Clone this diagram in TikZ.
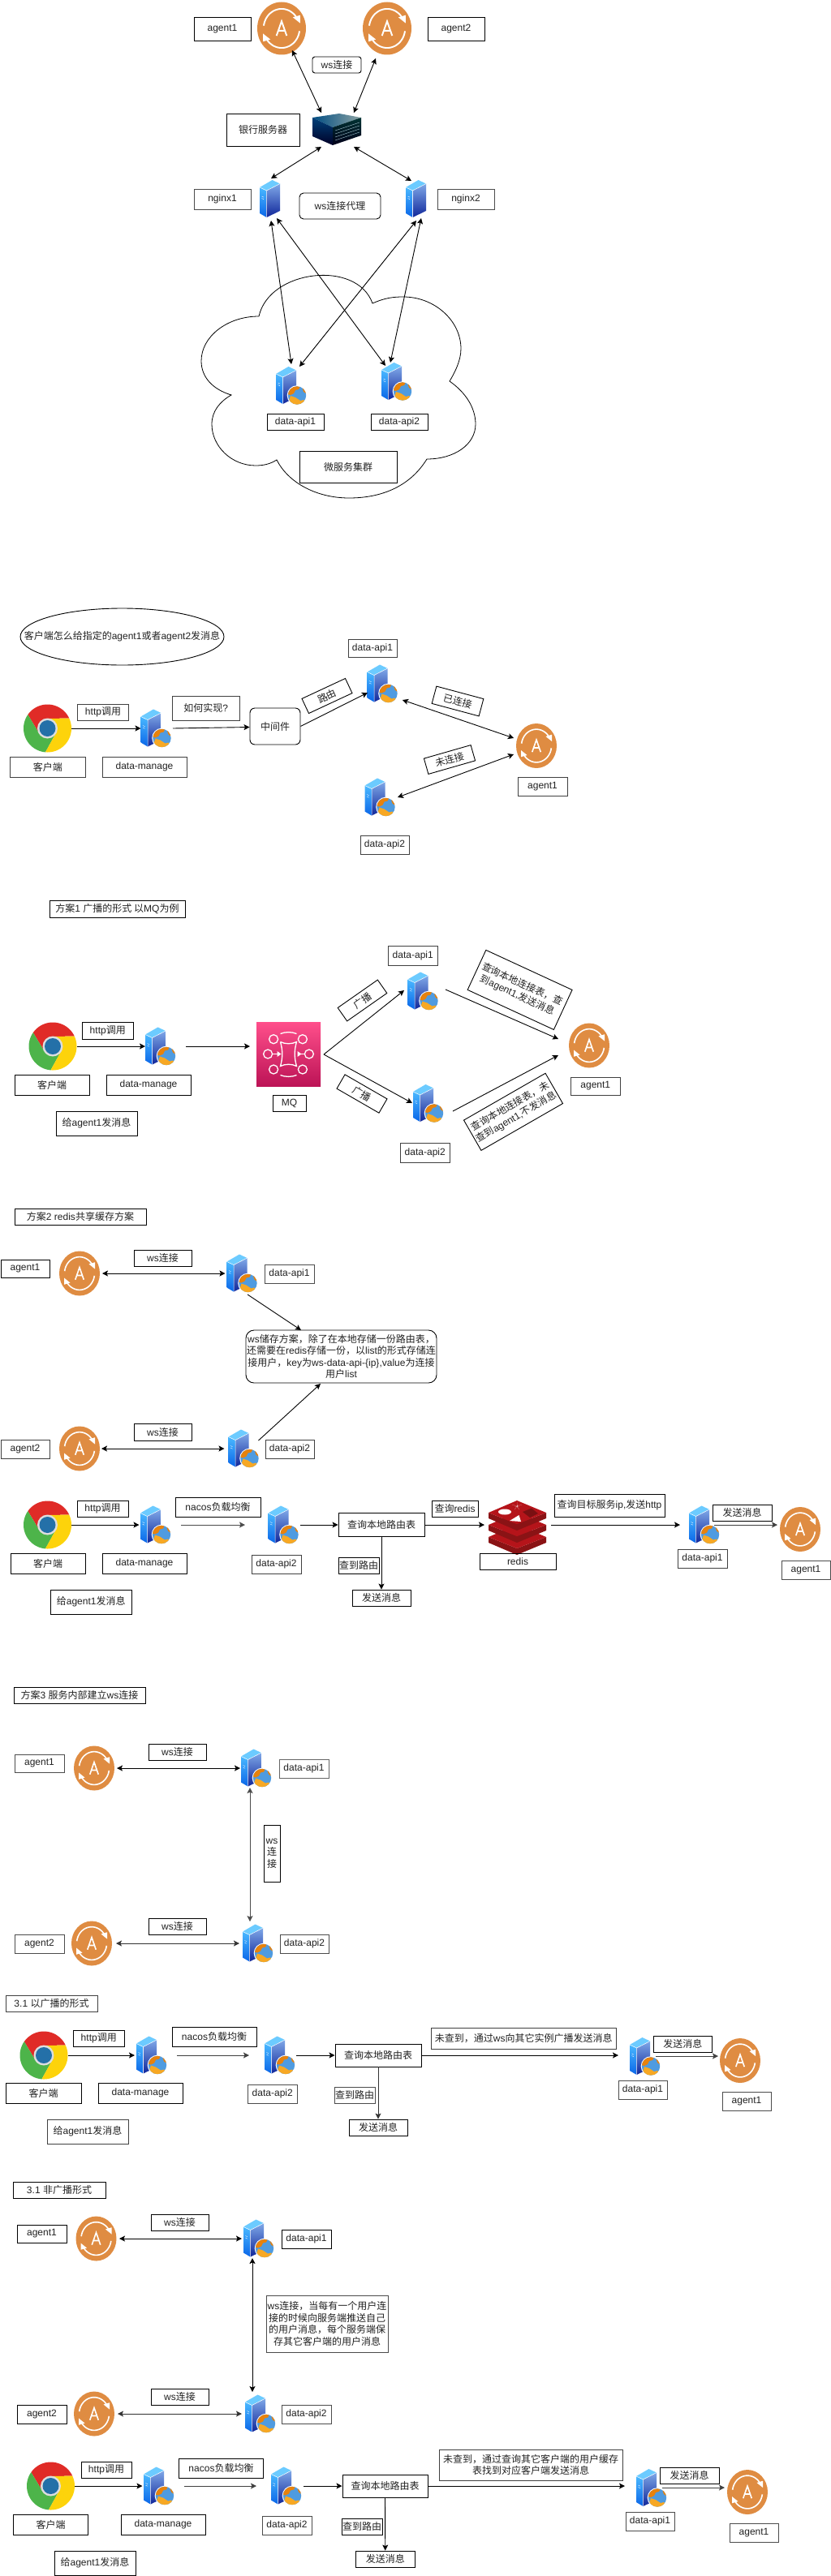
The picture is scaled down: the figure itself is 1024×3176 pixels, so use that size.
\documentclass[tikz,border=0pt]{standalone}
\usepackage{fontspec}
\setmainfont{Liberation Sans}
\newfontfamily\cjkf{Noto Sans CJK SC}
\usetikzlibrary{arrows.meta,shapes.geometric}
\XeTeXinterchartokenstate=1
\newXeTeXintercharclass\cjkclass
\newcount\cc
\cc="3000 \loop \XeTeXcharclass\cc=\cjkclass \advance\cc 1 \ifnum\cc<"3100 \repeat
\cc="4E00 \loop \XeTeXcharclass\cc=\cjkclass \advance\cc 1 \ifnum\cc<"A000 \repeat
\cc="FF00 \loop \XeTeXcharclass\cc=\cjkclass \advance\cc 1 \ifnum\cc<"FFF0 \repeat
\XeTeXinterchartoks 0 \cjkclass={\cjkf}
\XeTeXinterchartoks 4095 \cjkclass={\cjkf}
\XeTeXinterchartoks \cjkclass 0={\rmfamily}
\XeTeXinterchartoks 4095 0={\rmfamily}
\definecolor{agorange}{HTML}{DF8C42}
\definecolor{twtop}{HTML}{6CCBFF}
\definecolor{twlefta}{HTML}{4AB8FF}
\definecolor{twleftb}{HTML}{0A66E8}
\definecolor{twrighta}{HTML}{7FA8E8}
\definecolor{twrightb}{HTML}{10269A}
\definecolor{globeblue}{HTML}{4F9BE0}
\definecolor{globeor}{HTML}{E8820C}
\definecolor{globeye}{HTML}{F7A824}
\definecolor{chred}{HTML}{E02B27}
\definecolor{chgreen}{HTML}{4DB44A}
\definecolor{chyellow}{HTML}{FDD30B}
\definecolor{chblue}{HTML}{2470A8}
\definecolor{chring}{HTML}{DDDDDD}
\definecolor{mqa}{HTML}{FF4F8B}
\definecolor{mqb}{HTML}{BC1356}
\definecolor{rdtop}{HTML}{B5141A}
\definecolor{rdside}{HTML}{8A1315}
\definecolor{rddark}{HTML}{7A1012}
\definecolor{txt}{HTML}{222222}
\tikzset{
  bx/.style={draw=black,line width=.9pt,inner sep=0pt,align=center,font=\fontsize{12}{14.5}\selectfont,text=txt},
  ic/.style={inner sep=0pt,outer sep=0pt},
  arr/.style={-{Stealth[length=7pt,width=7pt,inset=1.5pt]},line width=.9pt,black},
  darr/.style={{Stealth[length=7pt,width=7pt,inset=1.5pt]}-{Stealth[length=7pt,width=7pt,inset=1.5pt]},line width=.9pt,black},
  cloudline/.style={draw=black,line width=.8pt},
}
\newcommand\bx[6][]{%
  \pgfmathsetmacro\bcx{(#3+#5)/2}\pgfmathsetmacro\bcy{(#4+#6)/2}%
  \pgfmathsetmacro\bw{#5-#3}\pgfmathsetmacro\bh{#6-#4}%
  \node[bx,#1,minimum width=\bw pt,minimum height=\bh pt] (#2) at (\bcx,\bcy) {\bxtext};}
\newcommand\bxt[7][]{\def\bxtext{#7}\bx[#1]{#2}{#3}{#4}{#5}{#6}}
\newcommand\rbx[7]{\node[bx,rotate=#4,minimum width=#5pt,minimum height=#6pt] (#1) at (#2,#3) {#7};}
\newcommand\towerart{%
  \fill[twtop] (0,9)--(15.5,0)--(25,4.5)--(8.5,13)--cycle;
  \shade[top color=twlefta,bottom color=twleftb] (0,9)--(8.5,13)--(8.5,46)--(0,41)--cycle;
  \shade[top color=twrighta,bottom color=twrightb] (8.5,13)--(25,4.5)--(25,38)--(8.5,46)--cycle;
  \draw[white,line width=.5pt,line join=round] (0,9)--(8.5,13)--(25,4.5) (8.5,13)--(8.5,46);
  \draw[white,line width=.4pt] (2.5,20)--(5,21.2) (2.5,22.5)--(5,23.7);
}
\newcommand\globeart{%
  \fill[white] (26,35.5) circle[radius=12.3];
  \fill[globeblue] (26,35.5) circle[radius=11.2];
  \begin{scope}
    \clip (26,35.5) circle[radius=11.2];
    \fill[globeor] (15,24)--(30,24)--(28,28)--(24,29)--(22,33)--(18,35)--(14,34)--cycle;
    \fill[globeye] (18,36)--(24,38)--(30,42)--(34,41)--(38,45)--(28,50)--(15,45)--cycle;
    \fill[globeor] (32,25)--(37,27)--(38,34)--(34,31)--cycle;
  \end{scope}
}
\newcommand\srv[3]{\node[ic,minimum width=38pt,minimum height=47pt] (#1) at (#2,#3) {};
  \begin{scope}[shift={({#2-19},{#3-23.5})}]\towerart\globeart\end{scope}}
\newcommand\srvp[3]{\node[ic,minimum width=26pt,minimum height=46pt] (#1) at (#2,#3) {};
  \begin{scope}[shift={({#2-13},{#3-23})}]\towerart\end{scope}}
\newcommand\agent[5]{\node[ic,minimum width=#4pt,minimum height=#5pt] (#1) at (#2,#3) {};
  \pgfmathsetmacro\aglw{.032*#4}
  \begin{scope}[shift={(#2,#3)},xscale={#4/2},yscale={#5/2}]
    \fill[agorange] (0,0) circle[radius=1];
    \draw[white,line width=\aglw pt] plot[domain=-172:-28,samples=30] ({.74*cos(\x)},{.74*sin(\x)});
    \draw[white,line width=\aglw pt] plot[domain=8:152,samples=30] ({.74*cos(\x)},{.74*sin(\x)});
    \fill[white] (.46,-.42)--(.76,-.5)--(.76,-.2)--cycle;
    \fill[white] (-.46,.42)--(-.76,.5)--(-.76,.2)--cycle;
    \draw[white,line width=\aglw pt,line join=miter] (-.21,.28)--(0,-.27)--(.21,.28) (-.13,.09)--(.13,.09);
  \end{scope}}
\newcommand\chrome[3]{\node[ic,minimum width=59pt,minimum height=59pt] (#1) at (#2,#3) {};
  \begin{scope}[shift={(#2,#3)}]
    \fill[chred] (0,0)--(-210:12)--(-145:29.5)-- plot[domain=-145:-25,samples=25] ({29.5*cos(\x)},{29.5*sin(\x)})--(-90:12)--cycle;
    \fill[chgreen] (0,0)--(-330:12)--(-265:29.5)-- plot[domain=-265:-145,samples=25] ({29.5*cos(\x)},{29.5*sin(\x)})--(-210:12)--cycle;
    \fill[chyellow] (0,0)--(-90:12)--(-25:29.5)-- plot[domain=-25:95,samples=25] ({29.5*cos(\x)},{29.5*sin(\x)})--(-330:12)--cycle;
    \fill[chring] (0,0) circle[radius=12.5];
    \fill[chblue] (0,0) circle[radius=10];
  \end{scope}}
\begin{document}
\begin{tikzpicture}[x=1pt,y=-1pt]
\useasboundingbox (0,0) rectangle (1024,3176);
\fill[white] (0,0) rectangle (1024,3176);
%% ---------------- section 1
\agent{agAa}{347}{35}{60}{65}
\agent{agAb}{477}{35}{60}{65}
\bxt{lAa}{239}{21}{309}{50}{agent1}
\bxt{lAb}{527}{21}{597}{50}{agent2}
\bxt[rounded corners=3pt]{lAws}{385}{70}{445}{90}{ws连接}
\bxt{lAbank}{279}{140}{369}{180}{银行服务器}
\node[ic,minimum width=60pt,minimum height=40pt] (bank) at (415,160) {};
\begin{scope}[shift={(385,140)}]
  \shade[left color=black!70!blue!70!cyan,right color=cyan!20!black!45!white] (0,5)--(33,0)--(60,5)--(25,17)--cycle;
  \shade[top color=blue!30!black!75!cyan,bottom color=black!85!blue] (0,5)--(25,17)--(25,39)--(0,28)--cycle;
  \shade[top color=black!80!cyan,bottom color=black!90!blue] (25,17)--(60,5)--(60,27)--(25,39)--cycle;
  \draw[black!50!cyan!40!white,line width=.4pt] (28,21)--(58,11) (28,25)--(58,15) (28,29)--(58,19) (28,33)--(58,23);
\end{scope}
\srvp{ngxa}{333}{245}
\srvp{ngxb}{513}{245}
\bxt[draw=black!70]{lAn1}{239}{233}{309}{258}{nginx1}
\bxt[draw=black!70]{lAn2}{539}{233}{609}{258}{nginx2}
\bxt[rounded corners=5pt]{lAproxy}{369}{238}{469}{270}{ws连接代理}
\path[cloudline] (319,390) .. controls (332,332) and (440,320) .. (459,374)
  .. controls (475,367) and (485,366) .. (497,366)
  .. controls (535,366) and (568,395) .. (568,430)
  .. controls (568,445) and (560,460) .. (554,470)
  .. controls (574,484) and (586,503) .. (586,523)
  .. controls (586,548) and (560,566) .. (526,566)
  .. controls (505,600) and (470,614) .. (430,614)
  .. controls (390,614) and (355,595) .. (341,567)
  .. controls (333,572) and (325,574) .. (315,574)
  .. controls (285,574) and (261,550) .. (261,523)
  .. controls (261,507) and (271,495) .. (285,487)
  .. controls (262,480) and (248,465) .. (248,445)
  .. controls (248,415) and (280,390) .. (319,390) -- cycle;
\srv{apiAa}{359}{475.5}
\srv{apiAb}{489}{470.5}
\bxt{lAa1}{329}{510}{399}{530}{data-api1}
\bxt{lAa2}{457}{510}{527}{530}{data-api2}
\bxt{lAcl}{369}{556}{489}{595}{微服务集群}
\draw[darr] ([shift={(13,27)}]agAa.center) -- ([shift={(-19,-21)}]bank.center);
\draw[darr] ([shift={(-14,37)}]agAb.center) -- ([shift={(21,-21)}]bank.center);
\draw[darr] ([shift={(-19,21)}]bank.center) -- ([shift={(1,-25)}]ngxa.center);
\draw[darr] ([shift={(21,21)}]bank.center) -- ([shift={(-6,-22)}]ngxb.center);
\draw[darr] ([shift={(1,27)}]ngxa.center) -- ([shift={(0,-26.5)}]apiAa.center);
\draw[darr] ([shift={(8,24)}]ngxa.center) -- ([shift={(-14,-19.5)}]apiAb.center);
\draw[darr] ([shift={(0,27)}]ngxb.center) -- ([shift={(10,-23.5)}]apiAa.center);
\draw[darr] ([shift={(6,24)}]ngxb.center) -- ([shift={(-8,-23.5)}]apiAb.center);
%% ---------------- section 2
\node[ellipse,draw=black,line width=.9pt,inner sep=0pt,minimum width=251pt,minimum height=70pt,font=\fontsize{12}{14.5}\selectfont,text=txt] (qB) at (150.5,785) {\makebox[0pt][c]{客户端怎么给指定的agent1或者agent2发消息}};
\chrome{chB}{58.5}{898}
\bxt[draw=black!75]{lBc}{12.5}{933}{105}{958}{客户端}
\bxt[draw=black!75]{lBd}{126}{933}{230}{958}{data-manage}
\bxt[draw=black!75]{lBh}{95.5}{868}{158.5}{888}{http调用}
\srv{dmB}{192.5}{898}
\bxt[draw=black!75]{lBr}{212.5}{858}{295}{888}{如何实现?}
\bxt[rounded corners=6pt]{midB}{308}{873}{370}{918}{中间件}
\rbx{lBroute}{403}{858}{25}{59}{20}{路由}
\srv{apiBa}{471.5}{843}
\srv{apiBb}{468.5}{983}
\bxt[draw=black!75]{lBa1}{429}{788}{489}{810}{data-api1}
\bxt[draw=black!75]{lBa2}{444}{1030}{504}{1053}{data-api2}
\agent{agB}{661}{919.5}{50}{55}
\bxt[draw=black!75]{lBag}{638}{958}{699}{981}{agent1}
\rbx{lByes}{564}{864.5}{-15}{60}{22}{已连接}
\rbx{lBno}{554}{936.5}{16}{60}{20}{未连接}
\draw[arr] (chB.east) -- (dmB.west);
\draw[arr] ([xshift=1.5pt]dmB.east) -- ([yshift=-1pt]midB.west);
\draw[arr] (midB.east) -- ([shift={(-18.5,11)}]apiBa.center);
\draw[darr] ([shift={(24.5,20)}]apiBa.center) -- ([shift={(-28,-9.5)}]agB.center);
\draw[darr] ([shift={(21.5,0)}]apiBb.center) -- ([shift={(-28,10.5)}]agB.center);
%% ---------------- section 3
\bxt{lCt}{61}{1110}{228}{1131}{方案1 广播的形式 以MQ为例}
\chrome{chC}{65}{1290}
\bxt{lCh}{101.5}{1260}{164}{1281}{http调用}
\srv{dmC}{198}{1290}
\bxt{lCc}{18}{1325}{110}{1350}{客户端}
\bxt{lCd}{131}{1325}{235}{1350}{data-manage}
\bxt{lCm}{69}{1370}{169}{1400}{给agent1发消息}
\node[ic,minimum width=79pt,minimum height=79pt] (mqC) at (355.5,1299.5) {};
\shade[top color=mqa,bottom color=mqb] (316,1260) rectangle (395,1339);
\begin{scope}[shift={(355.5,1299.5)},white,line width=1.3pt]
  \draw (-18.4,-18.3) circle[radius=5.5] (17.4,-18.3) circle[radius=5.5] (-18.4,19) circle[radius=5.5] (17.4,19) circle[radius=5.5] (-25.4,0) circle[radius=5.5] (25.4,0) circle[radius=5.5];
  \draw (-10,-25) .. controls (-4,-27.5) and (4,-27.5) .. (10,-25);
  \draw (-10,26) .. controls (-4,28.5) and (4,28.5) .. (10,26);
  \draw (-10,-15) .. controls (-4,-12) and (4,-12) .. (10,-15) .. controls (7,-5) and (7,5) .. (10,15) .. controls (4,12) and (-4,12) .. (-10,15) .. controls (-7,5) and (-7,-5) .. (-10,-15);
  \draw (-19.5,0)--(-13,0) (13,0)--(19.5,0);
  \fill (-14,-3.5)--(-9,0)--(-14,3.5)--cycle;
  \fill (11,-3.5)--(16,0)--(11,3.5)--cycle;
\end{scope}
\bxt{lCmq}{336}{1350}{377}{1370}{MQ}
\srv{apiCa}{521.5}{1222}
\srv{apiCb}{528}{1360.5}
\bxt[draw=black!75]{lCa1}{478.5}{1166}{539}{1190}{data-api1}
\bxt[draw=black!75]{lCa2}{493.5}{1409}{554}{1433}{data-api2}
\rbx{lCb1}{446.5}{1233.5}{35}{60}{20}{广播}
\rbx{lCb2}{446}{1348.5}{-30}{60}{20}{广播}
\rbx{lCq1}{640.6}{1220.4}{-24.8}{117}{54}{查询本地连接表，查\\到agent1,发送消息}
\rbx{lCq2}{632.5}{1370.8}{29.9}{116}{43}{查询本地连接表，未\\查到agent1,不发消息}
\agent{agC}{726}{1289}{50}{55}
\bxt[draw=black!75]{lCag}{703.5}{1328}{764}{1350}{agent1}
\draw[arr] (chC.east) -- (dmC.west);
\draw[arr] ([xshift=12pt]dmC.east) -- ([shift={(-47.5,-9.5)}]mqC.center);
\draw[arr] ([shift={(43.5,0.5)}]mqC.center) -- ([shift={(-23.5,-1)}]apiCa.center);
\draw[arr] ([shift={(43.5,0.5)}]mqC.center) -- ([shift={(-20,-0.5)}]apiCb.center);
\draw[arr] ([shift={(27.5,-2)}]apiCa.center) -- ([shift={(-38,-8)}]agC.center);
\draw[arr] ([shift={(30,9.5)}]apiCb.center) -- ([shift={(-38,12)}]agC.center);
%% ---------------- section 4
\bxt{lDt}{18}{1490}{180}{1510}{方案2 redis共享缓存方案}
\bxt{lDa1}{1}{1553}{61}{1575}{agent1}
\agent{agDa}{98}{1570}{50}{55}
\bxt{lDw1}{165}{1541}{236}{1561}{ws连接}
\srv{apiDa}{298.5}{1570}
\bxt[draw=black!70]{lDi1}{326}{1559}{387}{1582}{data-api1}
\bxt[rounded corners=10pt]{redisnote}{303}{1640}{538}{1705}{ws储存方案，除了在本地存储一份路由表，\\还需要在redis存储一份，以list的形式存储连\\接用户，key为ws-data-api-\{ip\},value为连接\\用户list}
\bxt[draw=black!75]{lDa2}{1}{1775}{61}{1798}{agent2}
\agent{agDb}{98}{1786}{50}{55}
\bxt{lDw2}{165}{1755}{236}{1776}{ws连接}
\srv{apiDb}{300.5}{1786}
\bxt[draw=black!75]{lDi2}{327}{1775}{387}{1798}{data-api2}
\chrome{chD}{58.5}{1880}
\bxt{lDh}{95}{1850}{158}{1870}{http调用}
\srv{dmD}{192}{1880}
\bxt{lDc}{13}{1915}{105}{1940}{客户端}
\bxt{lDd}{126}{1915}{230}{1940}{data-manage}
\bxt{lDm}{62}{1960}{162.5}{1990}{给agent1发消息}
\bxt{lDn}{216}{1846}{321}{1870}{nacos负载均衡}
\srv{apiDc}{349.5}{1880}
\bxt[draw=black!75]{lDi3}{310}{1917.5}{371}{1940}{data-api2}
\bxt{qD}{417}{1865.5}{523}{1894.5}{查询本地路由表}
\bxt{lDf}{417}{1920}{467}{1940}{查到路由}
\bxt{sD}{434}{1960}{506}{1980}{发送消息}
\bxt{lDr}{532}{1850}{589}{1870}{查询redis}
\node[ic,minimum width=71pt,minimum height=60pt] (rdD) at (637.5,1880) {};
\begin{scope}[shift={(602,1850)}]
  \foreach \d in {30,15,0}{
    \fill[rdside] (0,15+\d)--(35,29+\d)--(71,15+\d)--(71,22+\d)--(35,37+\d)--(0,22+\d)--cycle;
    \fill[rdtop] (0,15+\d)--(35,0+\d)--(71,15+\d)--(35,29+\d)--cycle;
  }
  \fill[white] (20,14) ellipse[x radius=8,y radius=3.5];
  \fill[rddark] (42,14)--(53,9.5)--(61,16)--(51,21)--cycle;
  \fill[white] (26,25)--(40,26)--(37.5,18)--cycle;
  \fill[white] (35,7) ++(-90:5.5) -- (35,7) ++(-54:2.4) -- (35,7) ++(-18:6.5) -- (35,7) ++(18:2.4) -- (35,7) ++(54:5) -- (35,7) ++(90:2.2) -- (35,7) ++(126:5) -- (35,7) ++(162:2.4) -- (35,7) ++(198:6.5) -- (35,7) ++(234:2.4) -- cycle;
\end{scope}
\bxt{lDrb}{591}{1915}{685}{1935}{redis}
\bxt{lDs}{683}{1842}{819}{1870}{查询目标服务ip,发送http}
\srv{apiDd}{868}{1880}
\bxt[draw=black!75]{lDi4}{835}{1910}{896}{1933}{data-api1}
\bxt{lDss}{878}{1855}{951}{1875}{发送消息}
\agent{agDc}{986}{1885.5}{50}{55}
\bxt[draw=black!70]{lDag}{963}{1924}{1023}{1947}{agent1}
\draw[darr] ([xshift=3pt]agDa.east) -- ([xshift=-2pt]apiDa.west);
\draw[arr] ([shift={(6.5,26)}]apiDa.center) -- ([shift={(-49.5,-32.5)}]redisnote.center);
\draw[darr] ([xshift=2pt]agDb.east) -- ([xshift=-5pt]apiDb.west);
\draw[arr] ([shift={(18,-10)}]apiDb.center) -- ([shift={(-25.5,33.5)}]redisnote.center);
\draw[arr] (chD.east) -- ([xshift=-1.5pt]dmD.west);
\draw[arr,black!70] ([xshift=12pt]dmD.east) -- ([xshift=-28.5pt]apiDc.west);
\draw[arr] ([xshift=1.5pt]apiDc.east) -- (qD.west);
\draw[arr] (qD.south) -- (sD.north);
\draw[arr] (qD.east) -- ([xshift=-5pt]rdD.west);
\draw[arr] ([xshift=6pt]rdD.east) -- ([xshift=-11pt]apiDd.west);
\draw[arr,black!75] ([shift={(12,0)}]apiDd.center) -- ([shift={(-28,-5.5)}]agDc.center);
%% ---------------- section 5
\bxt{lEt}{17}{2080}{179}{2100}{方案3 服务内部建立ws连接}
\bxt[draw=black!70]{lEa1}{18}{2163}{79}{2185}{agent1}
\agent{agEa}{116}{2180}{50}{55}
\bxt{lEw1}{183}{2150}{254}{2170}{ws连接}
\srv{apiEa}{316}{2180}
\bxt[draw=black!60]{lEi1}{344}{2169}{405}{2192}{data-api1}
\bxt{lEv}{325}{2250}{345}{2320}{ws\\连\\接}
\bxt[draw=black!70]{lEa2}{18}{2385}{79}{2408}{agent2}
\agent{agEb}{113}{2396}{50}{55}
\bxt{lEw2}{183}{2365}{254}{2385}{ws连接}
\srv{apiEb}{318}{2396}
\bxt[draw=black!70]{lEi2}{345}{2385}{405}{2408}{data-api2}
\draw[darr] ([xshift=3pt]agEa.east) -- ([xshift=-1pt]apiEa.west);
\draw[darr,black!70] ([shift={(-8,24)}]apiEa.center) -- ([shift={(-10,-27)}]apiEb.center);
\draw[darr,black!80] ([xshift=5pt]agEb.east) -- ([xshift=-4pt]apiEb.west);
%% ---------------- section 6
\bxt[draw=black!75]{lFt}{7}{2460}{120}{2480}{3.1 以广播的形式}
\chrome{chF}{54}{2534}
\bxt{lFh}{90.5}{2503}{153}{2523}{http调用}
\srv{dmF}{187}{2534}
\bxt{lFc}{7}{2568}{100}{2593}{客户端}
\bxt{lFd}{121}{2568}{225}{2593}{data-manage}
\bxt[draw=black!75]{lFm}{58}{2613}{158}{2643}{给agent1发消息}
\bxt{lFn}{212}{2499}{316}{2523}{nacos负载均衡}
\srv{apiFb}{345}{2534}
\bxt[draw=black!70]{lFi2}{305.5}{2570}{366}{2593}{data-api2}
\bxt{qF}{413}{2520}{519}{2548}{查询本地路由表}
\bxt[draw=black!70]{lFf}{412}{2573}{462}{2593}{查到路由}
\bxt{sF}{430}{2613}{502}{2633}{发送消息}
\bxt[draw=black!75]{lFw}{531.5}{2500}{759}{2526}{未查到，通过ws向其它实例广播发送消息}
\srv{apiFa}{795}{2535.5}
\bxt[draw=black!70]{lFi1}{762}{2565}{822}{2588}{data-api1}
\bxt{lFs}{805}{2510}{877.5}{2530}{发送消息}
\agent{agF}{912}{2540.5}{50}{55}
\bxt[draw=black!70]{lFag}{890}{2579}{950}{2602}{agent1}
\draw[arr] (chF.east) -- ([xshift=-2pt]dmF.west);
\draw[arr,black!75] ([xshift=12pt]dmF.east) -- ([xshift=-19pt]apiFb.west);
\draw[arr] ([xshift=1pt]apiFb.east) -- (qF.west);
\draw[arr,black!80] (qF.south) -- (sF.north);
\draw[arr] (qF.east) -- ([shift={(-33,-1.5)}]apiFa.center);
\draw[arr,black!75] ([shift={(13,-0.5)}]apiFa.center) -- ([shift={(-27,-5.5)}]agF.center);
%% ---------------- section 7
\bxt{lGt}{16}{2690}{130}{2710}{3.1 非广播形式}
\bxt{lGa1}{21}{2743}{82}{2765}{agent1}
\agent{agGa}{118.5}{2760}{50}{55}
\bxt{lGw1}{186}{2730}{257}{2750}{ws连接}
\srv{apiGa}{319}{2760}
\bxt{lGi1}{347}{2749}{408}{2772}{data-api1}
\bxt[draw=black!70]{lGn}{328}{2830}{478}{2900}{ws连接，当每有一个用户连\\接的时候向服务端推送自己\\的用户消息，每个服务端保\\存其它客户端的用户消息}
\bxt{lGa2}{21}{2965}{82}{2988}{agent2}
\agent{agGb}{116}{2976}{50}{55}
\bxt{lGw2}{186}{2945}{257}{2965}{ws连接}
\srv{apiGb}{321}{2976}
\bxt[draw=black!70]{lGi2}{347}{2965}{408}{2988}{data-api2}
\draw[darr] ([xshift=3.5pt]agGa.east) -- ([xshift=-2pt]apiGa.west);
\draw[darr] ([shift={(-8,24)}]apiGa.center) -- ([shift={(-10,-27)}]apiGb.center);
\draw[darr,black!80] ([xshift=4pt]agGb.east) -- ([xshift=-4pt]apiGb.west);
%% ---------------- section 8
\chrome{chH}{62.5}{3065}
\bxt{lHh}{100}{3035}{162}{3055}{http调用}
\srv{dmH}{196}{3065}
\bxt{lHc}{16.5}{3100}{108.5}{3125}{客户端}
\bxt{lHd}{149}{3100}{253}{3125}{data-manage}
\bxt{lHm}{67}{3145}{167}{3175}{给agent1发消息}
\bxt{lHn}{220.5}{3031}{324.5}{3055}{nacos负载均衡}
\srv{apiHb}{353}{3065}
\bxt[draw=black!70]{lHi2}{323}{3102}{384}{3125}{data-api2}
\bxt{qH}{422}{3051}{527}{3079}{查询本地路由表}
\bxt{lHf}{421}{3105}{471}{3125}{查到路由}
\bxt{sH}{438.5}{3145}{511}{3165}{发送消息}
\bxt[draw=black!75]{lHw}{541}{3020}{767}{3058}{未查到，通过查询其它客户端的用户缓存\\表找到对应客户端发送消息}
\srv{apiHa}{803}{3067.5}
\bxt[draw=black!70]{lHi1}{771}{3097}{831}{3120}{data-api1}
\bxt{lHs}{813}{3042}{886}{3062}{发送消息}
\agent{agH}{921}{3072.5}{50}{55}
\bxt[draw=black!70]{lHag}{899}{3111}{959}{3134}{agent1}
\draw[arr] (chH.east) -- ([xshift=-1.5pt]dmH.west);
\draw[arr,black!75] ([xshift=12pt]dmH.east) -- ([xshift=-18pt]apiHb.west);
\draw[arr] ([xshift=2pt]apiHb.east) -- (qH.west);
\draw[arr] (qH.south) -- (sH.north);
\draw[arr] (qH.east) -- ([shift={(-33,-2.5)}]apiHa.center);
\draw[arr,black!75] ([shift={(13,-0.5)}]apiHa.center) -- ([shift={(-28,-5.5)}]agH.center);
\end{tikzpicture}
\end{document}
